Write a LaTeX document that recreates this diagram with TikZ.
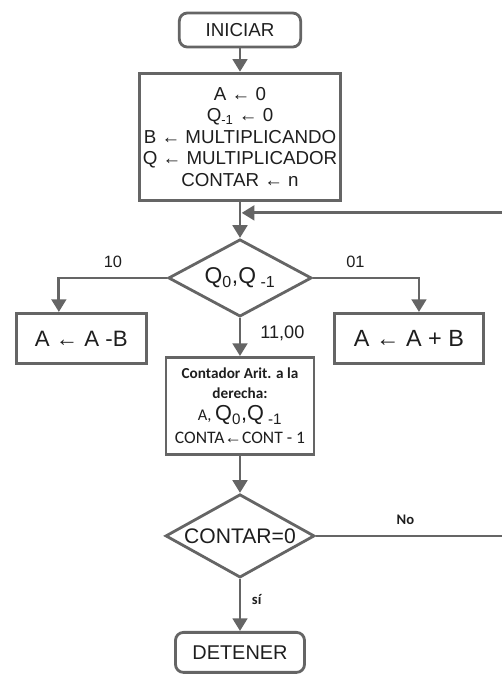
\documentclass[tikz,border=0pt]{standalone}
\usepackage{fontspec}
\setmainfont{Liberation Sans}
\newfontfamily\calibri{Carlito}
\usepackage{tikz}
\usetikzlibrary{positioning,shapes.geometric,arrows.meta}
\definecolor{linegray}{HTML}{656565}
\definecolor{inkdark}{HTML}{1E1E1E}
\tikzset{
  terminal/.style={draw=linegray, line width=2.4pt, rounded corners=2.4mm, align=center, text=inkdark},
  procbox/.style={draw=linegray, line width=2.4pt, rectangle, align=center, text=inkdark, inner sep=1pt},
  test/.style={draw=linegray, line width=2.4pt, diamond, aspect=2, inner sep=0pt, align=center, text=inkdark},
  arrow/.style={draw=linegray, line width=2.4pt, -{Triangle[length=3.8mm,width=4.4mm]}},
  branchlbl/.style={text=inkdark, font=\fontsize{14}{16}\selectfont},
  answerlbl/.style={text=inkdark, font=\calibri\bfseries\fontsize{12.5}{14}\selectfont}
}

\begin{document}
\begin{tikzpicture}
  \useasboundingbox (-72mm,9mm) rectangle (78.3mm,-194.1mm);
  \node[terminal, minimum width=36.4mm, minimum height=10.2mm, font=\fontsize{16}{18}\selectfont] (start) at (0,0) {INICIAR};
  \node[procbox, below=7mm of start, minimum width=60.3mm, minimum height=38.2mm, font=\fontsize{16}{18.4}\selectfont] (init) {A ← 0\\Q\textsubscript{-1} ← 0\\B ← MULTIPLICANDO\\Q ← MULTIPLICADOR\\CONTAR ← n};
  \node[test, below=10.8mm of init, minimum width=43mm, minimum height=23.2mm, font=\fontsize{19.5}{21}\selectfont] (check) {Q\textsubscript{0},Q\textsubscript{ -1}};
  \node[procbox, below left=10.2mm and 5.7mm of check.west, minimum width=39.1mm, minimum height=15.1mm, font=\fontsize{19}{21}\selectfont] (sub) {A ← A -B};
  \node[procbox, below right=10.2mm and 6mm of check.east, minimum width=44.7mm, minimum height=15.1mm, font=\fontsize{20}{22}\selectfont] (add) {A ← A + B};
  \node[procbox, below=11.4mm of check, minimum width=44.4mm, minimum height=29.1mm, font=\calibri\fontsize{15}{17}\selectfont] (shift) {{\bfseries\fontsize{13}{17}\selectfont Contador Arit. a la}\\{\bfseries\fontsize{13}{17}\selectfont derecha:}\\[1.7pt]{\fontsize{14}{17}\selectfont A, }{\rmfamily\fontsize{18.5}{19}\selectfont Q\textsubscript{0},Q\textsubscript{ -1}}\\[2.6pt]CONTA{\rmfamily ←}CONT - 1};
  \node[test, below=11.1mm of shift, minimum width=44.7mm, minimum height=25mm, font=\fontsize{18}{20}\selectfont] (zero) {CONTAR=0};
  \node[terminal, below=15.6mm of zero, minimum width=38.7mm, minimum height=12mm, font=\fontsize{17}{20}\selectfont] (stop) {DETENER};

  \coordinate[below=3.3mm of init] (loopin);
  \coordinate[right=61mm of zero.east] (turn);

  \draw[arrow] (start) -- (init);
  \draw[arrow] (init) -- (check);
  \draw[arrow] (check.west) -| node[branchlbl, pos=0.25, above=1.6mm] {10} ([xshift=-6.75mm]sub.north);
  \draw[arrow] (check.east) -| node[branchlbl, pos=0.2, above=1.6mm] {01} ([xshift=3mm]add.north);
  \draw[arrow] (check) -- node[branchlbl, font=\fontsize{15.5}{17}\selectfont, pos=0.4, right=4.5mm] {11,00} (shift);
  \draw[arrow] (shift) -- (zero);
  \draw[arrow] (zero) -- node[answerlbl, pos=0.4, right=2mm] {sí} (stop);
  \draw[arrow, shorten >=0.5mm] (zero.east) -- node[answerlbl, pos=0.44, above=1.8mm] {No} (turn) |- (loopin);
\end{tikzpicture}
\end{document}
